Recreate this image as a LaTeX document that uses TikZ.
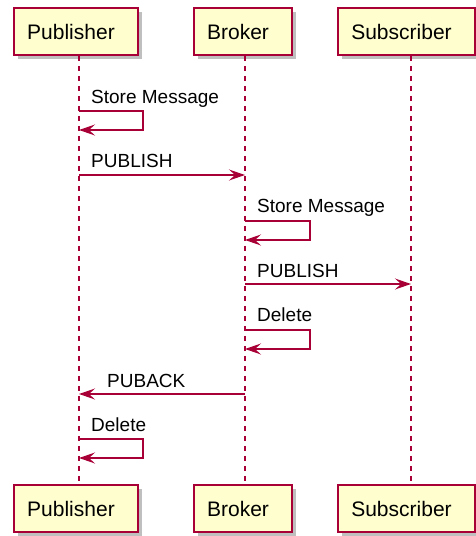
\documentclass[tikz,border=0pt]{standalone}
\usepackage{fontspec}
\setmainfont{Liberation Sans}
\usetikzlibrary{shadows,arrows.meta}
\definecolor{umlred}{HTML}{A80036}
\definecolor{umlfill}{HTML}{FEFECE}

\begin{document}
\begin{tikzpicture}[x=1pt,y=-1pt,
    actor/.style={draw=umlred, fill=umlfill, line width=1.8pt, minimum height=47pt, inner sep=0pt,
      font=\fontsize{21}{24}\selectfont, execute at begin node={\hspace*{-10pt}},
      drop shadow={shadow xshift=4pt, shadow yshift=-4pt, fill=black, opacity=0.25}},
    lifeline/.style={umlred, line width=1.2pt, dash pattern=on 5pt off 5pt},
    msg/.style={umlred, line width=1.4pt, -{Stealth[length=16pt,width=11pt,inset=6pt]}},
    lbl/.style={anchor=base west, inner sep=0pt, font=\fontsize{19}{22}\selectfont}]

    \useasboundingbox (0,0) rectangle (476,536);

    % lifelines x
    \coordinate (pub) at (79,0);
    \coordinate (brk) at (245,0);
    \coordinate (sub) at (411,0);

    \node (pubtop) [actor, minimum width=124pt] at (76,31.5) {Publisher};
    \node (brktop) [actor, minimum width=98pt] at (243,31.5) {Broker};
    \node (subtop) [actor, minimum width=137pt] at (406.5,31.5) {Subscriber};

    \node (pubbot) [actor, minimum width=124pt] at (76,508.5) {Publisher};
    \node (brkbot) [actor, minimum width=98pt] at (243,508.5) {Broker};
    \node (subbot) [actor, minimum width=137pt] at (406.5,508.5) {Subscriber};

    \draw [lifeline] (pubtop.south -| pub) -- (pubbot.north -| pub);
    \draw [lifeline] (brktop.south -| brk) -- (brkbot.north -| brk);
    \draw [lifeline] (subtop.south -| sub) -- (subbot.north -| sub);

    % messages
    \node (m1) [lbl] at (91,103) {Store Message};
    \draw [msg] (pub |- 0,111) -- ++(64,0) -- ++(0,19) -- (pub |- 0,130);

    \node (m2) [lbl] at (91,167) {PUBLISH};
    \draw [msg] (pub |- 0,175) -- (brk |- 0,175);

    \node (m3) [lbl] at (257,212) {Store Message};
    \draw [msg] (brk |- 0,221) -- ++(65,0) -- ++(0,19) -- (brk |- 0,240);

    \node (m4) [lbl] at (257,277) {PUBLISH};
    \draw [msg] (brk |- 0,284) -- (sub |- 0,284);

    \node (m5) [lbl] at (257,321) {Delete};
    \draw [msg] (brk |- 0,330) -- ++(65,0) -- ++(0,19) -- (brk |- 0,349);

    \node (m6) [lbl] at (107,387) {PUBACK};
    \draw [msg] (brk |- 0,394) -- (pub |- 0,394);

    \node (m7) [lbl] at (91,431) {Delete};
    \draw [msg] (pub |- 0,439) -- ++(64,0) -- ++(0,19) -- (pub |- 0,458);
\end{tikzpicture}
\end{document}
